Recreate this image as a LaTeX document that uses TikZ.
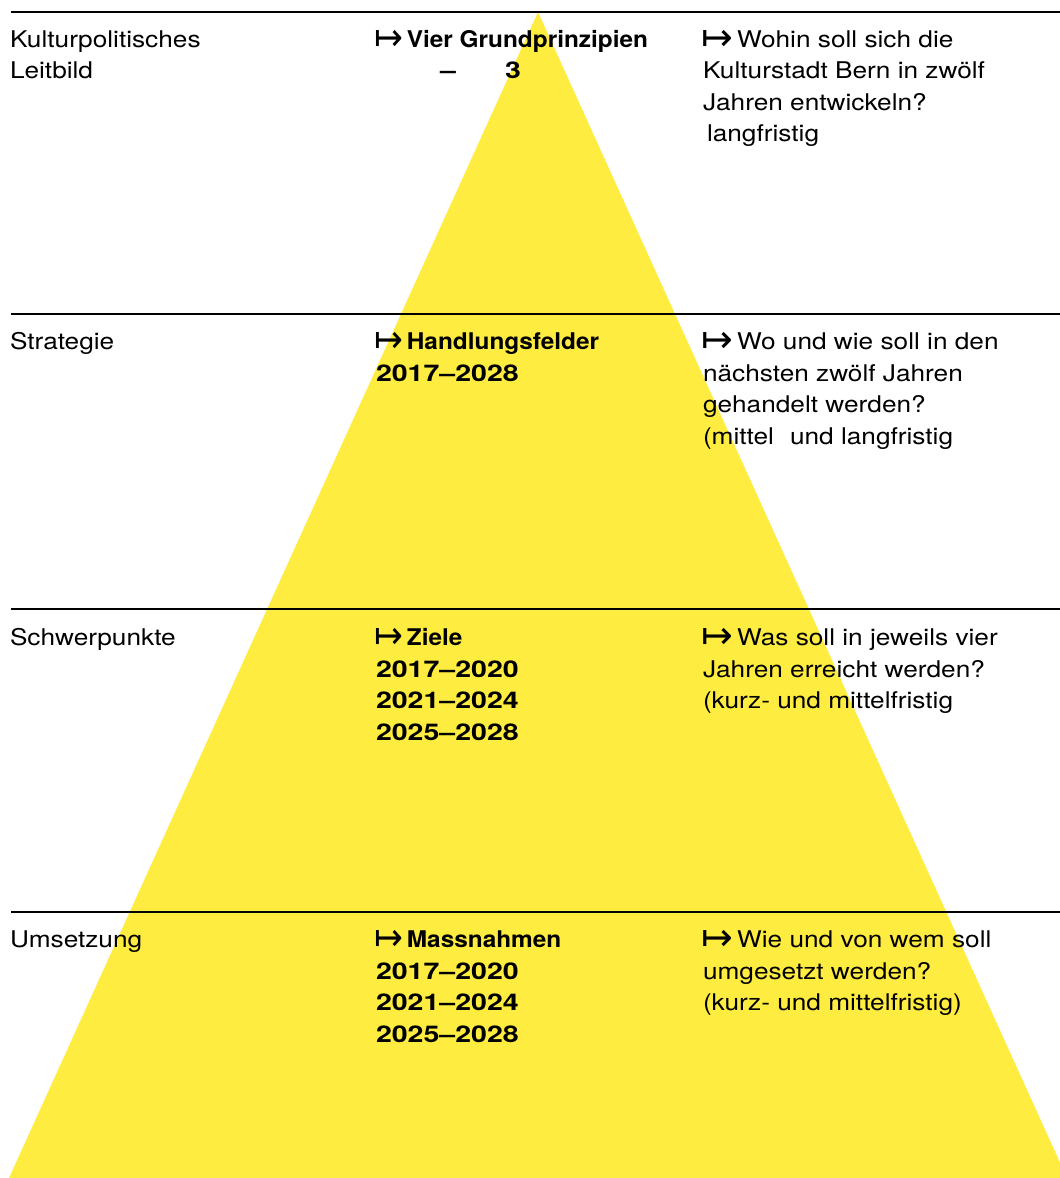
\documentclass[tikz,border=0pt]{standalone}
\usepackage{fontspec}
\setmainfont{TeX Gyre Heros}[FakeStretch=1.14]
\newfontfamily\boldf{TeX Gyre Heros}[FakeStretch=1.06]
\newfontfamily\yearf{TeX Gyre Heros}[FakeStretch=1.24]
\newfontfamily\arrf{DejaVu Sans}
\definecolor{ylw}{RGB}{255,236,64}
\newcommand{\marr}{\kern-2pt\raisebox{-3.3pt}{\scalebox{1.65}[1.66]{\arrf\mdseries ↦}}\kern-3pt}
\newcommand{\barr}{\kern-2pt\raisebox{-3.3pt}{\scalebox{1.5}[1.66]{\arrf\mdseries ↦}}\kern-2.8pt}
\tikzset{
  txt/.style={anchor=base west, inner sep=0pt, outer sep=0pt, text=black, font=\fontsize{23}{28}\selectfont},
  bld/.style={txt, font=\fontsize{23}{28}\boldf\bfseries},
  yr/.style={txt, font=\fontsize{23}{28}\yearf\bfseries},
  rulel/.style={line width=2pt, black},
  tri/.style={fill=ylw, draw=none}
}
\begin{document}
\begin{tikzpicture}[x=1pt, y=-1pt]
\useasboundingbox (0,0) rectangle (1060,1178);
% triangle
\begin{scope}
\clip (0,0) rectangle (1060,1178);
\coordinate (apex) at (538,12);
\coordinate (bl) at (9,1178);
\coordinate (br) at (1067,1178);
\fill[tri] (apex) -- (bl) -- (br) -- cycle;
\end{scope}
% rules
\coordinate (a1) at (11,12);  \coordinate (b1) at (1060,12);
\coordinate (a2) at (11,314); \coordinate (b2) at (1060,314);
\coordinate (a3) at (11,609); \coordinate (b3) at (1060,609);
\coordinate (a4) at (11,912); \coordinate (b4) at (1060,912);
\draw[rulel] (a1) -- (b1);
\draw[rulel] (a2) -- (b2);
\draw[rulel] (a3) -- (b3);
\draw[rulel] (a4) -- (b4);
% row 1
\node[txt] (l1a) at (10,47) {Kulturpolitisches};
\node[txt] (l1b) at (10,78.5) {Leitbild};
\node[bld] (m1a) at (376,47) {\barr\ Vier Grundprinzipien};
\node[yr] (m1b) at (440,78.5) {–};
\node[yr] (m1c) at (505,78.5) {3};
\node[txt] (r1a) at (703,47) {\marr\ Wohin soll sich die};
\node[txt] (r1b) at (703,78.5) {Kulturstadt Bern in zwölf};
\node[txt] (r1c) at (703,110) {Jahren entwickeln?};
\node[txt] (r1d) at (707,141.5) {langfristig};
% row 2
\node[txt] (l2a) at (10,349.5) {Strategie};
\node[bld] (m2a) at (376,349.5) {\barr\ Handlungsfelder};
\node[yr] (m2b) at (376,381) {2017–2028};
\node[txt] (r2a) at (703,349.5) {\marr\ Wo und wie soll in den};
\node[txt] (r2b) at (703,381) {nächsten zwölf Jahren};
\node[txt] (r2c) at (703,412.5) {gehandelt werden?};
\node[txt] (r2d) at (703,444) {(mittel\phantom{-} und langfristig};
% row 3
\node[txt] (l3a) at (10,645.5) {Schwerpunkte};
\node[bld] (m3a) at (376,645.5) {\barr\ Ziele};
\node[yr] (m3b) at (376,677) {2017–2020};
\node[yr] (m3c) at (376,708.5) {2021–2024};
\node[yr] (m3d) at (376,740) {2025–2028};
\node[txt] (r3a) at (703,645.5) {\marr\ Was soll in jeweils vier};
\node[txt] (r3b) at (703,677) {Jahren erreicht werden?};
\node[txt] (r3c) at (703,708.5) {(kurz- und mittelfristig};
% row 4
\node[txt] (l4a) at (10,947.5) {Umsetzung};
\node[bld] (m4a) at (376,947.5) {\barr\ Massnahmen};
\node[yr] (m4b) at (376,979) {2017–2020};
\node[yr] (m4c) at (376,1010.5) {2021–2024};
\node[yr] (m4d) at (376,1042) {2025–2028};
\node[txt] (r4a) at (703,947.5) {\marr\ Wie und von wem soll};
\node[txt] (r4b) at (703,979) {umgesetzt werden?};
\node[txt] (r4c) at (703,1010.5) {(kurz- und mittelfristig)};
\end{tikzpicture}
\end{document}
